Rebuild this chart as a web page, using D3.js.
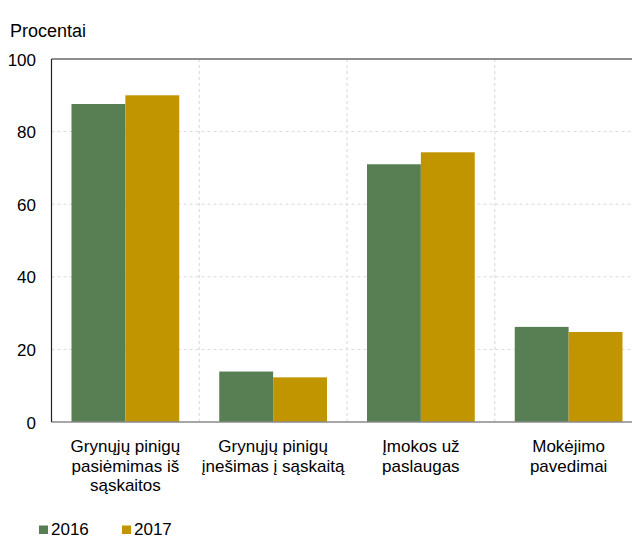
<!DOCTYPE html>
<html><head><meta charset="utf-8">
<script src="https://cdn.jsdelivr.net/npm/d3@7"></script>
<style>body{margin:0;background:#fff}svg{display:block;font-family:"Liberation Sans",Arial,sans-serif}</style>
</head><body>
<svg id="c" width="632" height="538"></svg>
<script>
const categories = [
  ["Grynųjų pinigų","pasiėmimas iš","sąskaitos"],
  ["Grynųjų pinigų","įnešimas į sąskaitą"],
  ["Įmokos už","paslaugas"],
  ["Mokėjimo","pavedimai"]
];
const series = ["2016","2017"];
const values2016 = [87.6, 13.9, 71.0, 26.2];
const values2017 = [90.0, 12.3, 74.3, 24.8];
const yTicks = [0,20,40,60,80,100];
const colors = ["#587e53","#c09500"];

const svg = d3.select("#c");
const mLeft = 51.5, mTop = 59, mBottom = 422, mRight = 642.5;
const x = d3.scaleBand().domain(d3.range(categories.length)).range([mLeft, mRight]).paddingInner(0).paddingOuter(0);
const y = d3.scaleLinear().domain([0,100]).range([mBottom, mTop]);
const inner = d3.scaleBand().domain(series).range([20, x.bandwidth()-20]);

// horizontal gridlines
svg.append("g").selectAll("line").data(yTicks.filter(t=>t>0 && t<100)).join("line")
  .attr("x1", mLeft).attr("x2", 632).attr("y1", d=>y(d)).attr("y2", d=>y(d))
  .attr("stroke","#d9d9d9").attr("stroke-dasharray","3,3");
// vertical gridlines
svg.append("g").selectAll("line").data(d3.range(1,categories.length)).join("line")
  .attr("x1", d=>x(d)).attr("x2", d=>x(d)).attr("y1", mTop).attr("y2", mBottom)
  .attr("stroke","#e3e3e3").attr("stroke-width",1.5).attr("stroke-dasharray","3,3");
// top line
svg.append("line").attr("x1",mLeft).attr("x2",632).attr("y1",y(100)).attr("y2",y(100))
  .attr("stroke","#6a6a6a").attr("stroke-width",1.5);

// bars
const data = [values2016, values2017];
series.forEach((s,si)=>{
  svg.append("g").selectAll("rect").data(data[si]).join("rect")
    .attr("x",(d,i)=>x(i)+inner(s)).attr("width",inner.bandwidth())
    .attr("y",d=>y(d)).attr("height",d=>y(0)-y(d))
    .attr("fill",colors[si]);
});

// axes lines
svg.append("line").attr("x1",mLeft).attr("x2",632).attr("y1",mBottom).attr("y2",mBottom)
  .attr("stroke","#8a8a8a").attr("stroke-width",1.5);
svg.append("line").attr("x1",mLeft).attr("x2",mLeft).attr("y1",mTop).attr("y2",mBottom)
  .attr("stroke","#222").attr("stroke-width",1.2);

// y tick labels
svg.append("g").selectAll("text").data(yTicks).join("text")
  .attr("x",36).attr("y",d=>y(d)+6.5).attr("text-anchor","end")
  .attr("font-size",17).attr("fill","#000").text(d=>d);

svg.append("text").attr("x",10).attr("y",36.7).attr("font-size",18).text("Procentai");

// x labels
categories.forEach((lines,i)=>{
  const t = svg.append("text").attr("text-anchor","middle").attr("font-size",17);
  lines.forEach((l,j)=>{
    t.append("tspan").attr("x",x(i)+x.bandwidth()/2).attr("y",452+j*19.6).text(l);
  });
});

// legend
const lg = svg.append("g");
const lx = [39,122];
series.forEach((s,i)=>{
  lg.append("rect").attr("x",lx[i]).attr("y",525.5).attr("width",9).attr("height",8.5).attr("fill",colors[i]);
  lg.append("text").attr("x",lx[i]+12).attr("y",534.5).attr("font-size",17).text(s);
});
</script>
</body></html>
